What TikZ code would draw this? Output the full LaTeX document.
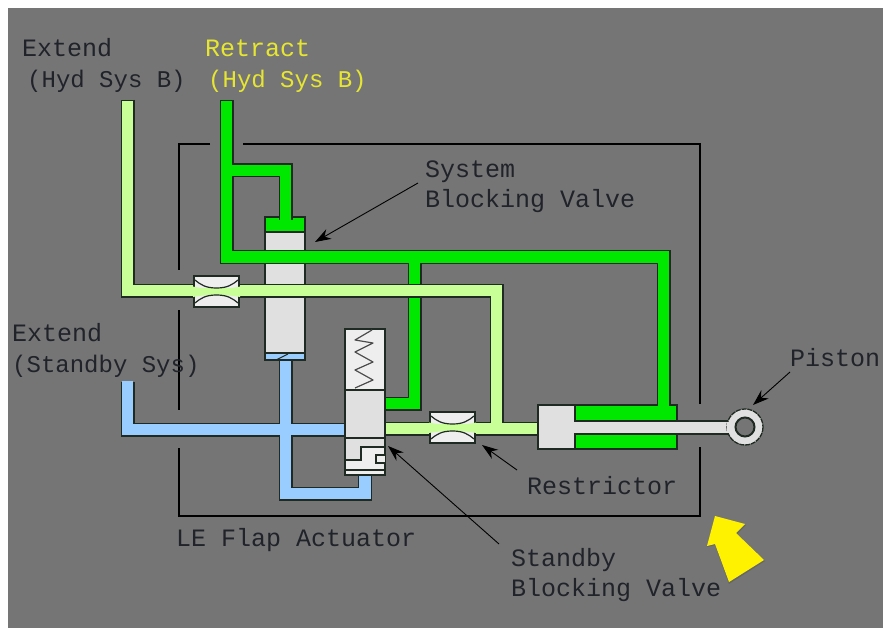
\documentclass[tikz,border=0pt]{standalone}
\usepackage{fontspec}
\setmainfont{Liberation Mono}
\usetikzlibrary{arrows.meta}
\definecolor{bggray}{HTML}{757575}
\definecolor{inkdark}{HTML}{20232A}
\definecolor{linedark}{HTML}{1F2A22}
\definecolor{pipegreen}{HTML}{00E800}
\definecolor{pipelime}{HTML}{C8FF96}
\definecolor{pipeblue}{HTML}{99CCFF}
\definecolor{bodygray}{HTML}{E0E0E0}
\definecolor{bodylight}{HTML}{EEEEEE}
\definecolor{labelyellow}{HTML}{E6E632}
\tikzset{
  x=1pt,y=-1pt,
  lbl/.style={anchor=base west,inner sep=0pt,text=inkdark,font=\fontsize{25}{30}\selectfont},
  lblnar/.style={lbl,font=\fontsize{24}{30}\selectfont},
  ylbl/.style={lbl,text=labelyellow},
  ylblnar/.style={lblnar,text=labelyellow},
  pipeout/.style={draw=linedark,line width=14pt,line join=miter},
  pipein/.style={line width=11.4pt,line join=miter},
  frameline/.style={draw=black,line width=2.4pt},
  part/.style={draw=linedark,line width=1.5pt},
  leader/.style={draw=black,line width=0.9pt,-{Stealth[length=16pt,width=11pt]}},
}
\begin{document}
\begin{tikzpicture}
\useasboundingbox (0,0) rectangle (883,628);
\fill[white] (0,0) rectangle (883,628);
\fill[bggray] (8,8) rectangle (883,628);
% frame
\draw[frameline] (210,144) -- (179,144) -- (179,270);
\draw[frameline] (179,310) -- (179,410);
\draw[frameline] (179,448) -- (179,516) -- (700,516) -- (700,447);
\draw[frameline] (700,404) -- (700,144) -- (243,144);
% piston chamber
\draw[part,fill=pipegreen] (575,405) rectangle (677,449);
% blue pipes
\draw[pipeout] (127.5,382) -- (127.5,429.5) -- (350,429.5);
\draw[pipeout] (285.5,358) -- (285.5,493.5) -- (365,493.5) -- (365,470);
\draw[pipein,draw=pipeblue] (127.5,381) -- (127.5,429.5) -- (350,429.5);
\draw[pipein,draw=pipeblue] (285.5,358) -- (285.5,493.5) -- (365,493.5) -- (365,470);
% upper valve
\draw[part,fill=bodygray] (265,232) rectangle (305,355);
\draw[part,fill=pipeblue] (265,353) rectangle (305,360);
\draw[draw=linedark,line width=1pt] (276,360) -- (288,354);
\draw[part,fill=pipegreen] (265,217) rectangle (305,232);
% green pipes
\draw[pipeout] (226.5,100) -- (226.5,257) -- (663.5,257) -- (663.5,408);
\draw[pipeout] (226.5,170.5) -- (285.5,170.5) -- (285.5,220);
\draw[pipeout] (414.5,257) -- (414.5,403.5) -- (383,403.5);
\draw[pipein,draw=pipegreen] (226.5,101) -- (226.5,257) -- (663.5,257) -- (663.5,410);
\draw[pipein,draw=pipegreen] (226.5,170.5) -- (285.5,170.5) -- (285.5,222);
\draw[pipein,draw=pipegreen] (414.5,257) -- (414.5,403.5) -- (383,403.5);
% lime pipes
\draw[pipeout] (127.5,100) -- (127.5,290.5) -- (496.5,290.5) -- (496.5,428.5);
\draw[pipeout] (383,428.5) -- (540,428.5);
\draw[pipein,draw=pipelime] (127.5,101) -- (127.5,290.5) -- (496.5,290.5) -- (496.5,428.5);
\draw[pipein,draw=pipelime] (383,428.5) -- (540,428.5);
% piston body and rod
\fill[pipegreen] (577,406) rectangle (676,448);
\draw[part,fill=bodygray] (538,405) rectangle (575,449);
\draw[draw=linedark,line width=1.2pt,fill=bodygray] (574,421) -- (730,421) -- (730,434) -- (574,434);
\fill[bodygray] (573,422) rectangle (732,433);
\draw[draw=linedark,line width=1.3pt,dash pattern=on 5pt off 0.8pt,fill=bodygray] (745,427) circle[radius=18];
\draw[draw=linedark,line width=2pt,fill=bggray] (745,427) circle[radius=9.5];
\fill[bodygray] (727,422) rectangle (729,433);
% restrictors
\foreach \rx/\ry in {194/276,430/412}{
  \begin{scope}[shift={(\rx,\ry)}]
    \fill[bodylight,draw=linedark,line width=1.3pt] (0,0) rectangle (45,31);
    \fill[pipelime] (-1,10.5) .. controls (10,13) and (15,12) .. (22.5,12) .. controls (30,12) and (35,13) .. (46,10.5) -- (46,21) .. controls (35,19) and (30,19) .. (22.5,19) .. controls (15,19) and (10,19) .. (-1,21) -- cycle;
    \draw[linedark,line width=1.2pt] (1,4) .. controls (7,9) and (12,12) .. (22.5,12) .. controls (33,12) and (38,9) .. (44,4);
    \draw[linedark,line width=1.2pt] (1,27) .. controls (7,22) and (12,19) .. (22.5,19) .. controls (33,19) and (38,22) .. (44,27);
  \end{scope}
}
% lower valve
\draw[part,fill=bodylight] (345,329) rectangle (385,390);
\draw[draw=black!70,line width=1.2pt,line join=round] (355,388) -- (373,380) -- (355,370) -- (373,362) -- (355,352) -- (373,343) -- (355,340) -- (372,330);
\draw[part,fill=bodygray] (345,390) rectangle (385,438);
\draw[part,fill=bodylight] (345,438) rectangle (385,475);
\draw[part,fill=bodygray] (345,438) -- (385,438) -- (385,447) -- (361,447) -- (361,460) -- (345,460) -- cycle;
\draw[part,fill=bodylight] (385,455) -- (376,455) -- (376,463) -- (385,463);
\draw[part] (345,470) -- (385,470);
% labels
\node[lbl] (ext1) at (22,57) {Extend};
\node[lblnar] (ext2) at (27,88) {(Hyd Sys B)};
\node[ylbl] (ret1) at (205,57) {Retract};
\node[ylblnar] (ret2) at (208,88) {(Hyd Sys B)};
\node[lbl] (sys1) at (425,178) {System};
\node[lbl] (sys2) at (425,208) {Blocking Valve};
\node[lbl] (ext3) at (12,341) {Extend};
\node[lblnar] (ext4) at (12,372) {(Standby Sys)};
\node[lbl] (pis) at (790,366) {Piston};
\node[lbl] (res) at (527,494) {Restrictor};
\node[lbl] (act) at (176,546) {LE Flap Actuator};
\node[lbl] (sby1) at (511,566) {Standby};
\node[lbl] (sby2) at (511,596) {Blocking Valve};
% leaders
\coordinate (tsys) at (315,242);
\coordinate (tpis) at (753,405);
\coordinate (tres) at (482,445);
\coordinate (tsby) at (388,446);
\coordinate (fsys) at (418,183);
\coordinate (fpis) at (790,372);
\coordinate (fres) at (517,470);
\coordinate (fsby) at (499,544);
\draw[leader] (fsys) -- (tsys);
\draw[leader] (fpis) -- (tpis);
\draw[leader] (fres) -- (tres);
\draw[leader] (fsby) -- (tsby);
% yellow arrow
\fill[black!60] (715,517) -- (746,525) -- (737,534) -- (765,561) -- (729,584) -- (715,545) -- (707,547) -- cycle;
\fill[yellow] (715,516) -- (745,524) -- (736,533) -- (764,560) -- (729,582) -- (715,544) -- (707,546) -- cycle;
\end{tikzpicture}
\end{document}
